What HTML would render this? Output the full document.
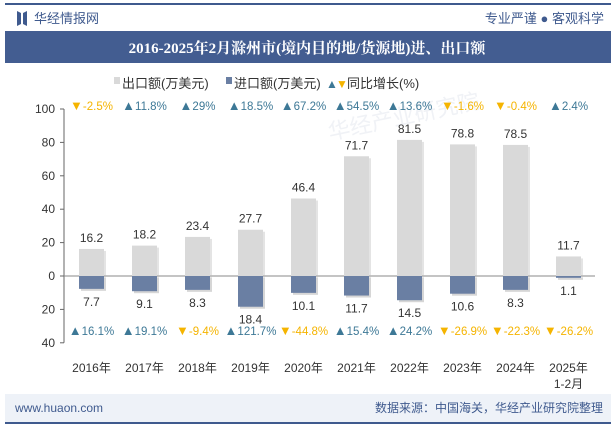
<!DOCTYPE html>
<html><head><meta charset="utf-8"><style>
body{margin:0;width:615px;height:427px;overflow:hidden;background:#fff;font-family:"Liberation Sans","Noto Sans CJK SC",sans-serif;}
</style></head><body>
<svg width="615" height="427" xmlns="http://www.w3.org/2000/svg" font-family="Liberation Sans, Noto Sans CJK SC, sans-serif">
<rect x="5" y="3" width="606" height="2" fill="#3f5a8e"/>
<g><path d="M17 11 L21 13 L21 24 L17 26 Z M23 13 L27 11 L27 26 L23 24 Z" fill="#3f5a8e"/></g>
<text x="34" y="23" font-size="13" fill="#3f5a8e">华经情报网</text>
<text x="604" y="23" font-size="13" fill="#3f5a8e" text-anchor="end">专业严谨 ● 客观科学</text>
<rect x="5" y="31" width="606" height="32" fill="#435d91"/>
<text x="307" y="53" font-size="15" font-weight="bold" fill="#fff" text-anchor="middle" font-family="Liberation Serif, Noto Serif CJK SC, serif">2016-2025年2月滁州市(境内目的地/货源地)进、出口额</text>
<g font-size="13" fill="#333">
<rect x="114" y="77" width="6" height="7" fill="#d9d9d9"/><text x="122" y="88">出口额(万美元)</text>
<rect x="226" y="77" width="6" height="7" fill="#6a7fa3"/><text x="234" y="88">进口额(万美元)</text>
<text x="326" y="88" font-size="12" fill="#3d7896">▲</text><text x="336" y="88" font-size="12" fill="#f5b400">▼</text><text x="347" y="88">同比增长(%)</text>
</g>
<text x="330" y="140" font-size="22" fill="#f0f2f6" transform="rotate(-12 330 140)">华经产业研究院</text>
<g id="axis" font-size="12" fill="#333"></g>
<g id="bars"></g>
<rect x="5" y="394" width="606" height="28" fill="#eef2f8"/>
<rect x="5" y="422" width="606" height="2" fill="#3f5a8e"/>
<text x="15" y="412" font-size="12" fill="#3f5a8e">www.huaon.com</text>
<text x="603" y="412" font-size="12" fill="#3f5a8e" text-anchor="end">数据来源：中国海关，华经产业研究院整理</text>
</svg>
<script>
const categories=["2016年","2017年","2018年","2019年","2020年","2021年","2022年","2023年","2024年","2025年"];
const exportVals=[16.2,18.2,23.4,27.7,46.4,71.7,81.5,78.8,78.5,11.7];
const importVals=[7.7,9.1,8.3,18.4,10.1,11.7,14.5,10.6,8.3,1.1];
const exportGrowth=[-2.5,11.8,29,18.5,67.2,54.5,13.6,-1.6,-0.4,2.4];
const importGrowth=[16.1,19.1,-9.4,121.7,-44.8,15.4,24.2,-26.9,-22.3,-26.2];
const yTicks=[100,80,60,40,20,0,20,40];
const yTickVals=[100,80,60,40,20,0,-20,-40];
const NS="http://www.w3.org/2000/svg";
const y=v=>276-v*1.67, x0=65, step=53, cx=i=>x0+step*(i+0.5), bw=25;
function mk(t,a,p){const e=document.createElementNS(NS,t);for(const k in a)e.setAttribute(k,a[k]);if(p)p.appendChild(e);return e;}
const ax=document.getElementById('axis'),bars=document.getElementById('bars');
const yl=mk('line',{x1:64,y1:y(100),x2:64,y2:y(-40),stroke:'#666'},ax);


yTickVals.forEach((v,i)=>{const t=mk('text',{x:55,y:y(v)+4,'text-anchor':'end'},ax);t.textContent=yTicks[i];


mk('line',{x1:60,x2:64,y1:y(v),y2:y(v),stroke:'#666'},ax);});
categories.forEach((c,i)=>{const x=cx(i);
mk('rect',{x:x-bw/2+2,y:y(exportVals[i])+2,width:bw,height:exportVals[i]*1.67,fill:'#bbb',opacity:0.4},bars);
const b=mk('rect',{x:x-bw/2,y:y(exportVals[i]),width:bw,height:exportVals[i]*1.67,fill:'#d9d9d9'},bars);


mk('rect',{x:x-bw/2+2,y:y(0)+2,width:bw,height:importVals[i]*1.67,fill:'#999',opacity:0.4},bars);
const b2=mk('rect',{x:x-bw/2,y:y(0),width:bw,height:importVals[i]*1.67,fill:'#6a7fa3'},bars);


const l1=mk('text',{x:x,y:y(exportVals[i])-7,'text-anchor':'middle','font-size':12,fill:'#333'},bars);l1.textContent=exportVals[i];


const l2=mk('text',{x:x,y:y(-importVals[i])+17,'text-anchor':'middle','font-size':12,fill:'#333'},bars);l2.textContent=importVals[i];


[[exportGrowth[i],110],[importGrowth[i],335]].forEach(([g,yy])=>{const t=mk('text',{x:x,y:yy,'text-anchor':'middle','font-size':11.5,fill:g>=0?'#3d7896':'#f5b400'},bars);
const a=mk('tspan',{'font-size':13},t);a.textContent=g>=0?'▲':'▼';
const s=mk('tspan',{},t);s.textContent=g+'%';

});
const xl=mk('text',{x:x,y:372,'text-anchor':'middle','font-size':12,fill:'#333'},bars);xl.textContent=c;


if(i==categories.length-1){const s=mk('text',{x:x,y:388,'text-anchor':'middle','font-size':12,fill:'#333'},bars);s.textContent='1-2月';

}
});
const zl=mk('line',{x1:64,x2:595,y1:y(0),y2:y(0),stroke:'#888'},ax);


</script>
</body></html>
